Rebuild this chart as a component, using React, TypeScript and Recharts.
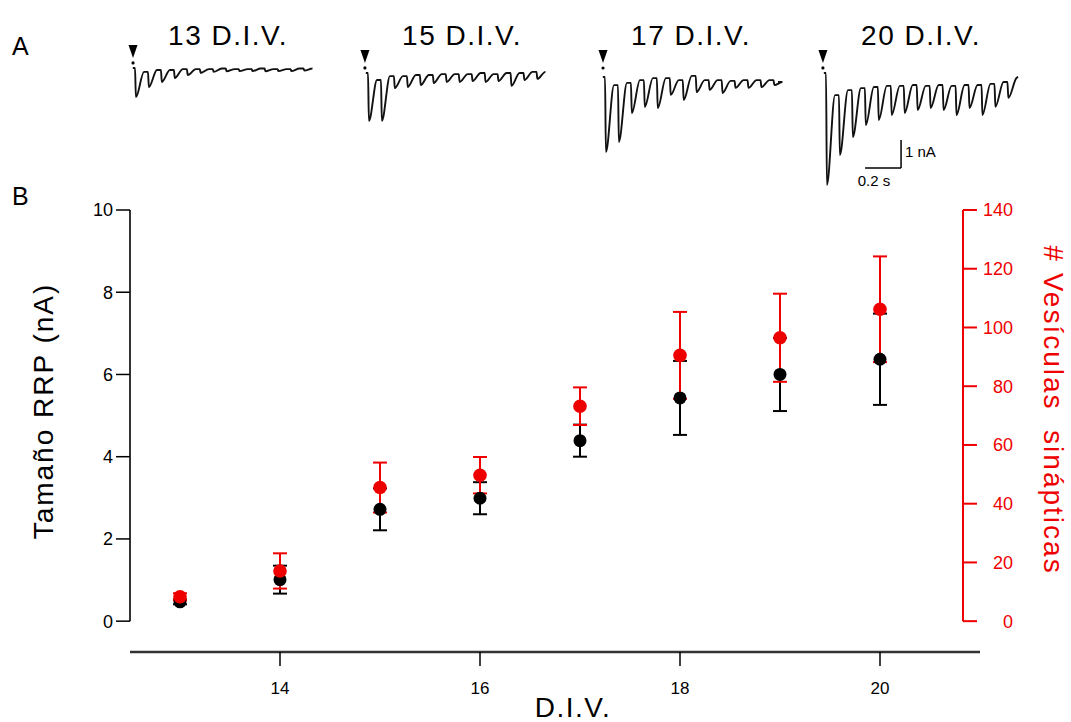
import React from 'react';
import {
  ComposedChart,
  LineChart,
  Line,
  Scatter,
  ErrorBar,
  XAxis,
  YAxis,
  ReferenceLine,
  ReferenceDot,
} from 'recharts';

// ---- panel B data ----
const divDays = [13, 14, 15, 16, 17, 18, 19, 20];
const rrpSize = [0.47, 1.01, 2.72, 2.99, 4.39, 5.43, 6.0, 6.37];
const rrpErr = [0.06, 0.34, 0.51, 0.39, 0.39, 0.9, 0.89, 1.11];
const vesicles = [8.3, 17.1, 45.5, 49.7, 73.2, 90.5, 96.5, 106.2];
const vesiclesErr = [1.2, 6.0, 8.5, 6.2, 6.4, 14.8, 15.0, 18.0];

const xTicks = [14, 16, 18, 20];
const leftTicks = [0, 2, 4, 6, 8, 10];
const rightTicks = [0, 20, 40, 60, 80, 100, 120, 140];

// ---- panel A traces (nA, relative to start level; one value per stimulus) ----
const traceTitles = ['13 D.I.V.', '15 D.I.V.', '17 D.I.V.', '20 D.I.V.'];
const peaks13 = [-1.04, -0.68, -0.5, -0.36, -0.25, -0.18, -0.14, -0.12, -0.11, -0.11, -0.12, -0.11, -0.11, -0.09];
const rests13 = [-0.14, -0.07, -0.07, -0.04, -0.04, -0.04, -0.02, -0.04, -0.04, -0.02, -0.04, -0.04, -0.02, -0.02];
const peaks15 = [-1.71, -1.71, -0.54, -0.5, -0.43, -0.36, -0.32, -0.32, -0.29, -0.32, -0.29, -0.46, -0.25, -0.21];
const rests15 = [-0.25, -0.11, -0.11, -0.07, -0.07, -0.04, -0.04, -0.04, 0, -0.04, 0, 0, 0.04, 0.04];
const peaks17 = [-2.68, -2.32, -1.29, -1.07, -1.11, -0.64, -0.82, -0.54, -0.46, -0.57, -0.39, -0.39, -0.36, -0.29];
const rests17 = [-0.29, -0.21, -0.11, -0.04, -0.04, -0.11, 0.04, -0.11, -0.11, -0.14, -0.11, -0.11, -0.11, -0.18];
const peaks20 = [-4.0, -2.93, -2.29, -1.86, -1.68, -1.5, -1.43, -1.32, -1.25, -1.32, -1.5, -1.25, -1.5, -1.21, -0.89];
const rests20 = [-0.79, -0.61, -0.54, -0.5, -0.46, -0.46, -0.43, -0.46, -0.43, -0.46, -0.43, -0.43, -0.39, -0.32, -0.18];
const traceEndTimes = [0.983, 0.983, 0.961, 1.067];
const traceEndLevels = [-0.02, 0.04, -0.18, -0.14];
const arrowTimes = [-0.011, -0.017, -0.011, -0.017];
const arrowLevels = [0.36, 0.36, 0.5, 0.36];
const pulseInterval = 0.072; // s
const scaleBarTime = 0.2; // s
const scaleBarCurrent = 1; // nA
const scaleBarOrigin = { t: 0.217, i: -3.39 };

const RED = '#ee0000';
const FONT = "'Liberation Sans', Arial, sans-serif";

const rows = divDays.map((d, k) => ({
  div: d,
  rrp: rrpSize[k],
  rrpErr: rrpErr[k],
  ves: vesicles[k],
  vesErr: vesiclesErr[k],
}));

// stimulus -> fast inward peak -> slower recovery to the level before the next stimulus
const buildTrace = (peaks: number[], rests: number[], endT: number, endLevel: number) => {
  const pts = [{ t: -0.012, i: 0 }];
  peaks.forEach((p, k) => {
    const t0 = k * pulseInterval;
    pts.push({ t: t0, i: k === 0 ? 0 : rests[k - 1] });
    pts.push({ t: t0 + 0.005, i: p });
    pts.push({ t: t0 + 0.05, i: rests[k] });
  });
  pts.push({ t: endT, i: endLevel });
  return pts;
};

const traces = [
  buildTrace(peaks13, rests13, traceEndTimes[0], traceEndLevels[0]),
  buildTrace(peaks15, rests15, traceEndTimes[1], traceEndLevels[1]),
  buildTrace(peaks17, rests17, traceEndTimes[2], traceEndLevels[2]),
  buildTrace(peaks20, rests20, traceEndTimes[3], traceEndLevels[3]),
];

// layout of the trace boxes (pixel of first pulse, pixel of start level)
const traceX0 = [135, 368, 605, 826];
const traceBase = [68, 73, 77, 73];
const titleCenters = [228, 462, 691, 921];

const PX_PER_S = 180;
const PX_PER_NA = 28;
const TRACE_W = 240;
const TRACE_H = 165;
const TRACE_TOP = 30;
const TRACE_PAD = 24;

const ArrowMark = (props: any) => {
  const { cx, cy } = props;
  return (
    <g>
      <path d={`M${cx - 4.5},${cy - 13} L${cx + 4.5},${cy - 13} L${cx},${cy} Z`} fill="#000" />
      <circle cx={cx} cy={cy + 5} r={1.6} fill="#000" />
    </g>
  );
};

const Trace = ({ idx }: { idx: number }) => {
  const x0 = traceX0[idx];
  const base = traceBase[idx];
  const xDomain = [-TRACE_PAD / PX_PER_S, (TRACE_W - TRACE_PAD) / PX_PER_S];
  const yDomain = [(base - TRACE_TOP - TRACE_H) / PX_PER_NA, (base - TRACE_TOP) / PX_PER_NA];
  return (
    <div style={{ position: 'absolute', left: x0 - TRACE_PAD, top: TRACE_TOP }}>
      <LineChart width={TRACE_W} height={TRACE_H} data={traces[idx]} margin={{ top: 0, right: 0, bottom: 0, left: 0 }}>
        <XAxis type="number" dataKey="t" domain={xDomain} hide allowDataOverflow />
        <YAxis type="number" domain={yDomain} hide allowDataOverflow />
        <Line
          type="monotoneX"
          dataKey="i"
          stroke="#111"
          strokeWidth={1.9}
          dot={false}
          isAnimationActive={false}
        />
        <ReferenceDot x={arrowTimes[idx]} y={arrowLevels[idx]} shape={ArrowMark} ifOverflow="visible" />
        {idx === 3 && (
          <ReferenceLine
            segment={[
              { x: scaleBarOrigin.t, y: scaleBarOrigin.i },
              { x: scaleBarOrigin.t + scaleBarTime, y: scaleBarOrigin.i },
            ]}
            stroke="#000"
            strokeWidth={1.5}
            ifOverflow="visible"
          />
        )}
        {idx === 3 && (
          <ReferenceLine
            segment={[
              { x: scaleBarOrigin.t + scaleBarTime, y: scaleBarOrigin.i },
              { x: scaleBarOrigin.t + scaleBarTime, y: scaleBarOrigin.i + scaleBarCurrent },
            ]}
            stroke="#000"
            strokeWidth={1.5}
            ifOverflow="visible"
          />
        )}
      </LineChart>
    </div>
  );
};

const RightTick = (props: any) => {
  const { x, y, payload } = props;
  return (
    <text x={x + 31} y={y} dy="0.355em" textAnchor="end" fill={RED} fontSize={18}>
      {payload.value}
    </text>
  );
};

const blackDot = (p: any) => <circle cx={p.cx} cy={p.cy} r={6.5} fill="#000" />;
const redDot = (p: any) => <circle cx={p.cx} cy={p.cy} r={6.8} fill={RED} />;

const X_MIN = 12.5;
const X_RIGHT_AXIS = 20.83;
const X_LINE_END = 21.0;
const LEFT_MIN = -0.75;

export default function App() {
  return (
    <div
      style={{
        position: 'absolute',
        left: 0,
        top: 0,
        width: 1071,
        height: 722,
        background: '#fff',
        fontFamily: FONT,
        overflow: 'hidden',
      }}
    >
      <div style={{ position: 'absolute', left: 0, top: 0 }}>
        <ComposedChart width={1071} height={722} data={rows} margin={{ top: 210, right: 48, bottom: 30, left: 70 }}>
          <XAxis
            dataKey="div"
            type="number"
            domain={[X_MIN, X_RIGHT_AXIS]}
            ticks={xTicks}
            interval={0}
            allowDataOverflow
            axisLine={false}
            tickLine={{ stroke: '#000', strokeWidth: 1.5 }}
            tickSize={14}
            tickMargin={16}
            tick={{ fontSize: 17, fill: '#000' }}
            height={40}
          />
          <YAxis
            yAxisId="left"
            type="number"
            domain={[LEFT_MIN, 10]}
            ticks={leftTicks}
            interval={0}
            allowDataOverflow
            axisLine={false}
            tickLine={{ stroke: '#000', strokeWidth: 1.5 }}
            tickSize={14}
            tickMargin={3}
            tick={{ fontSize: 18, fill: '#000' }}
            width={60}
          />
          <YAxis
            yAxisId="right"
            orientation="right"
            type="number"
            domain={[LEFT_MIN * 14, 140]}
            ticks={rightTicks}
            interval={0}
            allowDataOverflow
            axisLine={false}
            tickLine={{ stroke: RED, strokeWidth: 2 }}
            tickSize={14}
            tickMargin={5}
            tick={RightTick}
            width={60}
          />
          <ReferenceLine
            yAxisId="left"
            segment={[{ x: X_MIN, y: 0 }, { x: X_MIN, y: 10 }]}
            stroke="#000"
            strokeWidth={1.6}
            ifOverflow="visible"
          />
          <ReferenceLine
            yAxisId="right"
            segment={[{ x: X_RIGHT_AXIS, y: 0 }, { x: X_RIGHT_AXIS, y: 140 }]}
            stroke={RED}
            strokeWidth={2}
            ifOverflow="visible"
          />
          <ReferenceLine
            yAxisId="left"
            segment={[{ x: X_MIN, y: LEFT_MIN }, { x: X_LINE_END, y: LEFT_MIN }]}
            stroke="#333"
            strokeWidth={2.5}
            ifOverflow="visible"
          />
          <Scatter yAxisId="left" data={rows} dataKey="rrp" shape={blackDot} isAnimationActive={false}>
            <ErrorBar dataKey="rrpErr" width={7} stroke="#000" strokeWidth={2} direction="y" />
          </Scatter>
          <Scatter yAxisId="right" data={rows} dataKey="ves" shape={redDot} isAnimationActive={false}>
            <ErrorBar dataKey="vesErr" width={7} stroke={RED} strokeWidth={2} direction="y" />
          </Scatter>
        </ComposedChart>
      </div>

      {traceTitles.map((_, k) => (
        <Trace key={k} idx={k} />
      ))}

      <svg
        width={1071}
        height={722}
        style={{ position: 'absolute', left: 0, top: 0, pointerEvents: 'none' }}
      >
        <text x={12} y={55} fontSize={25} fill="#000">A</text>
        <text x={12} y={205} fontSize={25} fill="#000">B</text>
        {traceTitles.map((t, k) => (
          <text key={t} x={titleCenters[k]} y={45} fontSize={28} letterSpacing={1.5} textAnchor="middle" fill="#000">
            {t}
          </text>
        ))}
        <text x={905} y={157} fontSize={15} fill="#000">1 nA</text>
        <text x={874} y={186} fontSize={15} textAnchor="middle" fill="#000">0.2 s</text>
        <text
          x={0}
          y={0}
          transform="translate(53,411) rotate(-90)"
          fontSize={28}
          letterSpacing={2}
          textAnchor="middle"
          fill="#000"
        >
          Tamaño RRP (nA)
        </text>
        <text
          x={0}
          y={0}
          transform="translate(1044,410) rotate(90)"
          fontSize={28}
          letterSpacing={2}
          textAnchor="middle"
          fill={RED}
          style={{ whiteSpace: 'pre' }}
        >
          {'# Vesículas  sinápticas'}
        </text>
        <text x={573} y={717} fontSize={28} letterSpacing={1.5} textAnchor="middle" fill="#000">
          D.I.V.
        </text>
      </svg>
    </div>
  );
}
